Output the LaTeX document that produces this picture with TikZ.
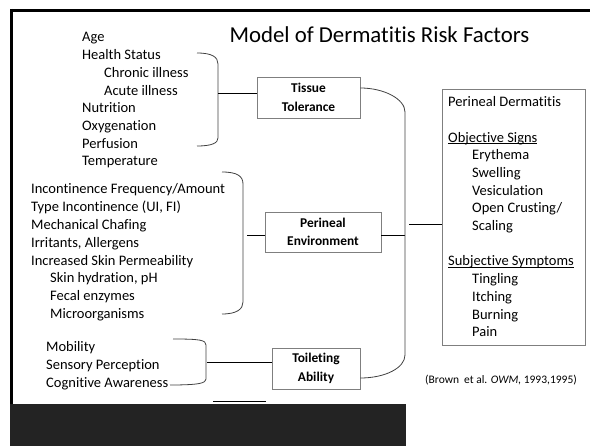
\documentclass[tikz,border=0pt]{standalone}
\usepackage{fontspec}
\setmainfont[Ligatures={NoCommon,NoContextual,NoRare},Contextuals=NoAlternate]{Carlito}
\definecolor{boxgray}{HTML}{7F7F7F}
\definecolor{brkgray}{HTML}{404040}
\definecolor{darkbg}{HTML}{232323}
\newcommand\myul[1]{\setbox0\hbox{#1}\rlap{\rule[-1.8pt]{\wd0}{0.7pt}}\box0}
\begin{document}
\begin{tikzpicture}[x=1pt,y=-1pt,
  txt/.style={anchor=base west, inner sep=0pt, font=\fontsize{14.5}{17.7}\selectfont},
  boxnode/.style={draw=boxgray, line width=0.9pt, align=center, inner sep=0pt,
    font=\fontsize{13.4}{18.5}\selectfont\bfseries},
  conn/.style={line width=1pt, draw=black},
  brk/.style={line width=0.8pt, draw=brkgray}]
\useasboundingbox (0,0) rectangle (590,446);
% frame and dark band
\fill[darkbg] (10,404) rectangle (406,446);
\draw[line width=3pt] (10,10.5) -- (590,10.5);
\draw[line width=3pt] (11.5,9) -- (11.5,404);
\draw[line width=1pt] (213,402) -- (266,402);
% title
\node[anchor=base, inner sep=0pt, font=\fontsize{22.8}{27}\selectfont] (title) at (379.5,43) {Model of Dermatitis Risk Factors};
% list 1
\node[txt] (a1) at (82,42) {Age};
\node[txt] (a2) at (82,59.7) {Health Status};
\node[txt] (a3) at (104,77.4) {Chronic illness};
\node[txt] (a4) at (104,95.1) {Acute illness};
\node[txt] (a5) at (82,112.8) {Nutrition};
\node[txt] (a6) at (82,130.5) {Oxygenation};
\node[txt] (a7) at (82,148.2) {Perfusion};
\node[txt] (a8) at (82,165.9) {Temperature};
% list 2
\node[txt] (e1) at (31,193.5) {Incontinence Frequency/Amount};
\node[txt] (e2) at (31,211.4) {Type Incontinence (UI, FI)};
\node[txt] (e3) at (31,229.3) {Mechanical Chafing};
\node[txt] (e4) at (31,247.2) {Irritants, Allergens};
\node[txt] (e5) at (31,265.1) {Increased Skin Permeability};
\node[txt] (e6) at (50,283) {Skin hydration, pH};
\node[txt] (e7) at (50,300.9) {Fecal enzymes};
\node[txt] (e8) at (50,318.8) {Microorganisms};
% list 3
\node[txt] (m1) at (46,352) {Mobility};
\node[txt] (m2) at (46,369.7) {Sensory Perception};
\node[txt] (m3) at (46,387.4) {Cognitive Awareness};
% boxes
\node[boxnode, minimum width=103pt, minimum height=41pt] (tt) at (308.5,97.5) {Tissue\\Tolerance};
\node[boxnode, minimum width=116pt, minimum height=40pt] (pe) at (323,232) {Perineal\\Environment};
\node[boxnode, minimum width=88pt, minimum height=41pt] (ta) at (316,368.5) {Toileting\\Ability};
\node[draw=boxgray, line width=0.9pt, minimum width=143pt, minimum height=256pt, inner sep=0pt] (pd) at (513.5,217) {};
% right box text
\node[txt] (p1) at (448,106.7) {Perineal Dermatitis};
\node[txt] (p2) at (448,142.1) {\myul{Objective Signs}};
\node[txt] (p3) at (472,159.8) {Erythema};
\node[txt] (p4) at (472,177.5) {Swelling};
\node[txt] (p5) at (472,195.2) {Vesiculation};
\node[txt] (p6) at (472,212.9) {Open Crusting/};
\node[txt] (p7) at (472,230.6) {Scaling};
\node[txt] (p8) at (448,266) {\myul{Subjective Symptoms}};
\node[txt] (p9) at (472,283.7) {Tingling};
\node[txt] (p10) at (472,301.4) {Itching};
\node[txt] (p11) at (472,319.1) {Burning};
\node[txt] (p12) at (472,336.8) {Pain};
% citation
\node[anchor=base west, inner sep=0pt, font=\fontsize{11.5}{14}\selectfont] (cite) at (425,384) {(Brown\ \ et al. \textit{OWM,} 1993,1995)};
% brackets
\draw[brk] (197,53) .. controls (212,53) and (218,57) .. (218,64) -- (218,138) .. controls (218,143) and (212,146) .. (197,146);
\draw[brk] (222,172) .. controls (237,172) and (243,176) .. (243,184) -- (243,302) .. controls (243,309) and (237,314) .. (222,314);
\draw[brk] (173,339) .. controls (200,339) and (206,340) .. (206,345) -- (206,379) .. controls (206,383) and (200,385) .. (170,385);
% connectors
\coordinate (b1) at (218,94);
\draw[conn] (b1) -- (b1 -| tt.west);
\coordinate (b2) at (247,236);
\draw[conn] (b2) -- (b2 -| pe.west);
\coordinate (r2) at (405,236);
\draw[conn] (pe.east |- r2) -- (r2);
\coordinate (q) at (409,225);
\draw[conn] (q) -- (q -| pd.west);
\coordinate (b3) at (207,363);
\draw[conn] (b3) -- (b3 -| ta.west);
\draw[brk] (tt.east |- 0,88) .. controls (384,88) and (405,99) .. (405,112) -- (405,355) .. controls (405,368) and (385,378) .. (ta.east |- 0,378);
\end{tikzpicture}
\end{document}
